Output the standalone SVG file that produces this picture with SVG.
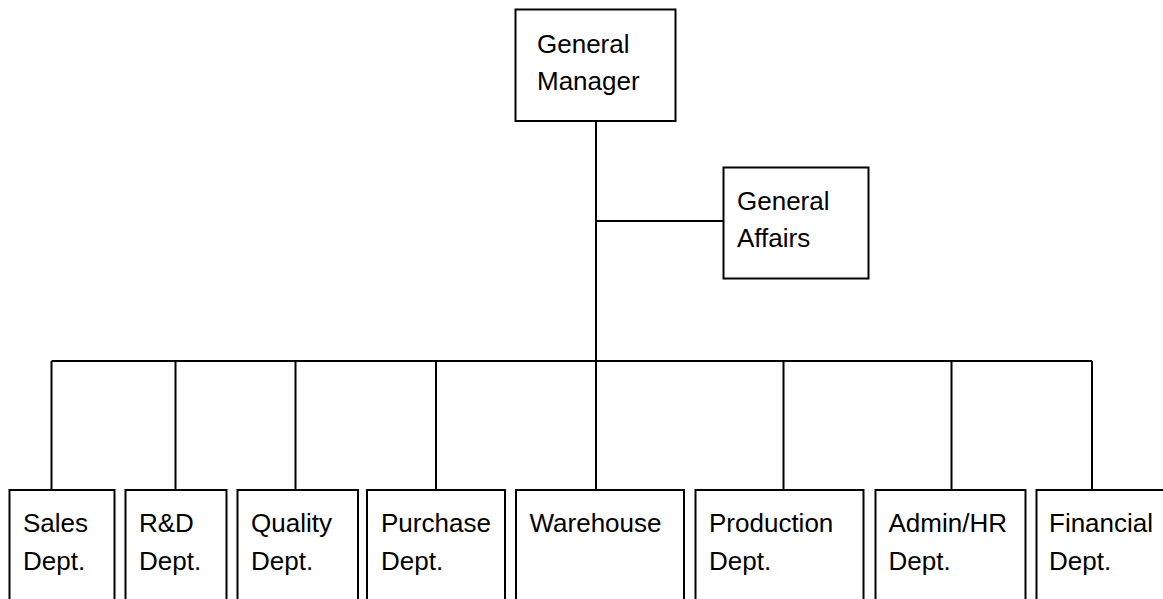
<svg xmlns="http://www.w3.org/2000/svg" width="1163" height="599" viewBox="0 0 1163 599">
<style>
.box{fill:#fff;stroke:#000;stroke-width:2}
.ln{fill:none;stroke:#000;stroke-width:2}
text{font-family:"Liberation Sans",Arial,sans-serif;font-size:26px;fill:#000}
</style>
<rect width="1163" height="599" fill="#fff"/>
<g id="connectors">
<path class="ln" d="M596 121V490M596 221H723M51.5 361H1092M51.5 361V490M175.5 361V490M295.5 361V490M436 361V490M783.5 361V490M951.5 361V490M1092 361V490"/>
</g>
<g id="gm"><rect class="box" x="515.5" y="9.5" width="160" height="111.5"/><text x="537" y="53">General</text><text x="537" y="89.5">Manager</text></g>
<g id="ga"><rect class="box" x="723.5" y="167.5" width="145" height="111"/><text x="737" y="210">General</text><text x="737" y="246.5">Affairs</text></g>
<g id="sales"><rect class="box" x="9.5" y="490" width="105" height="130"/><text x="23" y="532">Sales</text><text x="23" y="570">Dept.</text></g>
<g id="rd"><rect class="box" x="125.5" y="490" width="101" height="130"/><text x="139" y="532">R&amp;D</text><text x="139" y="570">Dept.</text></g>
<g id="quality"><rect class="box" x="237.5" y="490" width="120.5" height="130"/><text x="251" y="532">Quality</text><text x="251" y="570">Dept.</text></g>
<g id="purchase"><rect class="box" x="367" y="490" width="138" height="130"/><text x="381" y="532">Purchase</text><text x="381" y="570">Dept.</text></g>
<g id="warehouse"><rect class="box" x="516" y="490" width="168" height="130"/><text x="529.5" y="532">Warehouse</text></g>
<g id="production"><rect class="box" x="695.5" y="490" width="168" height="130"/><text x="709" y="532">Production</text><text x="709" y="570">Dept.</text></g>
<g id="admin"><rect class="box" x="875.5" y="490" width="150" height="130"/><text x="888.5" y="532">Admin/HR</text><text x="888.5" y="570">Dept.</text></g>
<g id="financial"><rect class="box" x="1036.5" y="490" width="140" height="130"/><text x="1049" y="532">Financial</text><text x="1049" y="570">Dept.</text></g>
</svg>
